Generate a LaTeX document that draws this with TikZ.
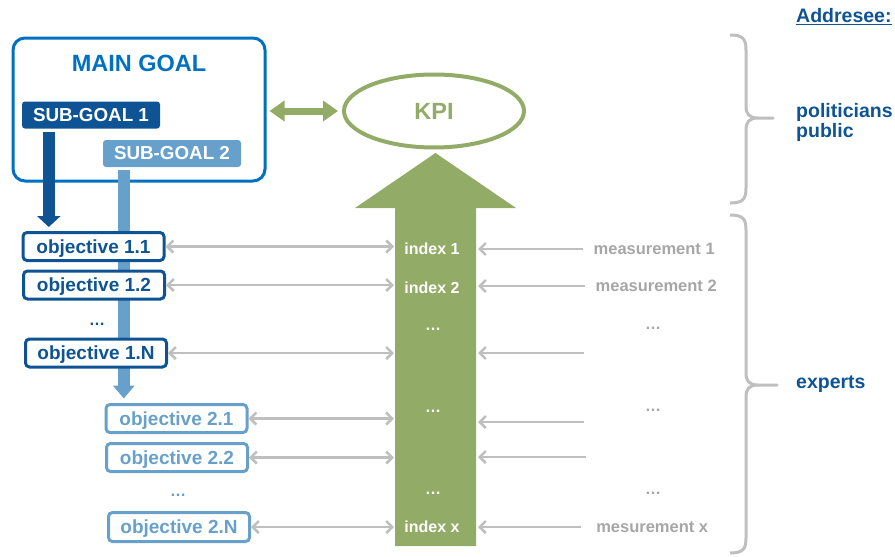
\documentclass[tikz,border=0pt]{standalone}
\usepackage{fontspec}
\setmainfont{Liberation Sans}
\usetikzlibrary{arrows.meta}
\usetikzlibrary{shapes.geometric}
\definecolor{goalblue}{RGB}{0,112,192}
\definecolor{darkblue}{RGB}{14,84,148}
\definecolor{lightblue}{RGB}{104,160,204}
\definecolor{kpigreen}{RGB}{146,172,104}
\definecolor{linegray}{RGB}{191,191,191}
\definecolor{textgray}{RGB}{166,166,166}

\begin{document}
\begin{tikzpicture}[x=1pt, y=-1pt,
	goalbox/.style={draw=goalblue, line width=3pt, rounded corners=12pt, minimum width=252pt, minimum height=143pt},
	goaltitle/.style={anchor=center, yshift=-27pt, text=goalblue, font=\fontsize{23.5}{25}\selectfont\bfseries},
	subgoal/.style={rounded corners=3pt, minimum width=138pt, minimum height=27pt, inner sep=0pt, text=white, font=\fontsize{18.8}{20}\selectfont\bfseries},
	objbox/.style={line width=3pt, fill=white, rounded corners=4pt, minimum width=141pt, minimum height=28pt, inner sep=0pt, text depth=0pt, font=\fontsize{19}{20}\selectfont\bfseries},
	objone/.style={objbox, draw=darkblue, text=darkblue},
	objtwo/.style={objbox, draw=lightblue, text=lightblue},
	kpi/.style={ellipse, draw=kpigreen, line width=4pt, minimum width=180pt, minimum height=73pt, text=kpigreen, font=\fontsize{23.5}{25}\selectfont\bfseries},
	kpiarrow/.style={draw=kpigreen, line width=7pt, {Triangle[length=15pt,width=20pt]}-{Triangle[length=15pt,width=20pt]}, shorten <=3pt, shorten >=4pt},
	subonearrow/.style={draw=darkblue, line width=12pt, -{Triangle[length=11pt,width=23pt]}, shorten <=3pt, shorten >=4pt},
	subtwoarrow/.style={draw=lightblue, line width=12pt, -{Triangle[length=13pt,width=21pt]}, shorten <=3pt, shorten >=4.5pt},
	idxlabel/.style={text=white, font=\fontsize{16}{18}\selectfont\bfseries},
	dotlabel/.style={font=\fontsize{16}{18}\selectfont\bfseries},
	measlabel/.style={anchor=west, minimum width=130pt, inner sep=0pt, text=textgray, font=\fontsize{16.5}{18}\selectfont\bfseries},
	audience/.style={anchor=west, align=left, inner sep=0pt, text=darkblue, font=\fontsize{19.5}{20}\selectfont\bfseries},
	link/.style={draw=linegray, line width=2.5pt, {Straight Barb[length=6pt,width=12pt]}-{Straight Barb[length=6pt,width=12pt]}, shorten >=1pt},
	feed/.style={draw=linegray, line width=2.5pt, -{Straight Barb[length=6pt,width=12pt]}, shorten <=6pt, shorten >=2pt},
	bracegray/.style={draw=linegray, line width=3pt, line join=round}]
	\useasboundingbox (0,0) rectangle (895,557);
	% Braces for the addressees
	\draw[bracegray] (730,35) .. controls (743,35) and (746,39) .. (746,50) -- (746,106)
		.. controls (746,114) and (749,118) .. (758,118) -- (773,118) -- (758,118)
		.. controls (749,118) and (746,122) .. (746,130) -- (746,188)
		.. controls (746,199) and (743,203) .. (730,203);
	\draw[bracegray] (730,215) .. controls (743,215) and (746,219) .. (746,230) -- (746,373)
		.. controls (746,381) and (749,385) .. (758,385) -- (777,385) -- (758,385)
		.. controls (749,385) and (746,389) .. (746,397) -- (746,538)
		.. controls (746,549) and (743,553) .. (730,553);
	\node[audience] (addr) at (796,17) {\underline{Addresee:}};
	\node[audience] (pol) at (796,122) {politicians\\public};
	\node[audience] (exp) at (796,384) {experts};
	% Big arrow up to the KPI
	\fill[kpigreen] (395,546) -- (395,208) -- (355,208) -- (435.5,153) -- (516,208) -- (476,208) -- (476,546) -- cycle;
	\coordinate (shaftL) at (395,0);
	\coordinate (shaftR) at (476,0);
	% Main goal and sub-goals
	\node[goalbox, label={[goaltitle]north:MAIN GOAL}] (goal) at (139,109.5) {};
	\node[subgoal, fill=darkblue] (sub1) at (91,115) {SUB-GOAL 1};
	\node[subgoal, fill=lightblue] (sub2) at (172,153.5) {SUB-GOAL 2};
	% KPI
	\node[kpi] (kpi) at (434,111) {KPI};
	\draw[kpiarrow] (goal.east |- kpi.west) -- (kpi.west);
	% Objectives of sub-goal 2
	\node[objtwo] (obj21) at (176.5,418.5) {objective 2.1};
	\node[objtwo] (obj22) at (177,457.5) {objective 2.2};
	\node[dotlabel, text=lightblue] (dots2) at (178,495) {…};
	\node[objtwo, minimum height=29pt] (obj2N) at (179,527) {objective 2.N};
	\coordinate (s2) at ([xshift=21pt]sub2.south west);
	\draw[subtwoarrow] (s2) -- (s2 |- obj21.north);
	% Objectives of sub-goal 1
	\node[objone] (obj11) at (93.5,246.5) {objective 1.1};
	\node[objone] (obj12) at (94,285) {objective 1.2};
	\node[dotlabel, text=darkblue] (dots1) at (97,324) {…};
	\node[objone] (obj1N) at (96,353) {objective 1.N};
	\coordinate (s1) at ([xshift=27pt]sub1.south west);
	\draw[subonearrow] (s1) -- (s1 |- obj11.north);
	% Indices
	\node[idxlabel] (idx1) at (432,249) {index 1};
	\node[idxlabel] (idx2) at (432,288) {index 2};
	\node[dotlabel, text=white] (idxdots1) at (433,329) {…};
	\node[dotlabel, text=white] (idxdots2) at (433,411) {…};
	\node[dotlabel, text=white] (idxdots3) at (433,493) {…};
	\node[idxlabel] (idxx) at (432,527) {index x};
	% Measurements
	\node[measlabel] (meas1) at (589,249) {measurement 1};
	\node[measlabel] (meas2) at (591,286) {measurement 2};
	\node[measlabel, font=\fontsize{16}{18}\selectfont\bfseries] (measdots1) at (588,328) {…};
	\node[measlabel, font=\fontsize{16}{18}\selectfont\bfseries] (measdots2) at (588,410) {…};
	\node[measlabel, font=\fontsize{16}{18}\selectfont\bfseries] (measdots3) at (588,493) {…};
	\node[measlabel] (measx) at (587,527) {mesurement x};
	\coordinate (measN) at (590,353);
	\coordinate (meas21) at (590,422);
	\coordinate (meas22) at (592,457);
	% Arrows between objectives and indices
	\draw[link] (obj11.east) -- (obj11.east -| shaftL);
	\draw[link] (obj12.east) -- (obj12.east -| shaftL);
	\draw[link] (obj1N.east) -- (obj1N.east -| shaftL);
	\draw[link] (obj21.east) -- (obj21.east -| shaftL);
	\draw[link] (obj22.east) -- (obj22.east -| shaftL);
	\draw[link] (obj2N.east) -- (obj2N.east -| shaftL);
	% Arrows from the measurements
	\draw[feed] (meas1.west) -- (meas1.west -| shaftR);
	\draw[feed] (meas2.west) -- (meas2.west -| shaftR);
	\draw[feed] (measN) -- (measN -| shaftR);
	\draw[feed] (meas21) -- (meas21 -| shaftR);
	\draw[feed] (meas22) -- (meas22 -| shaftR);
	\draw[feed] (measx.west) -- (measx.west -| shaftR);
\end{tikzpicture}
\end{document}
